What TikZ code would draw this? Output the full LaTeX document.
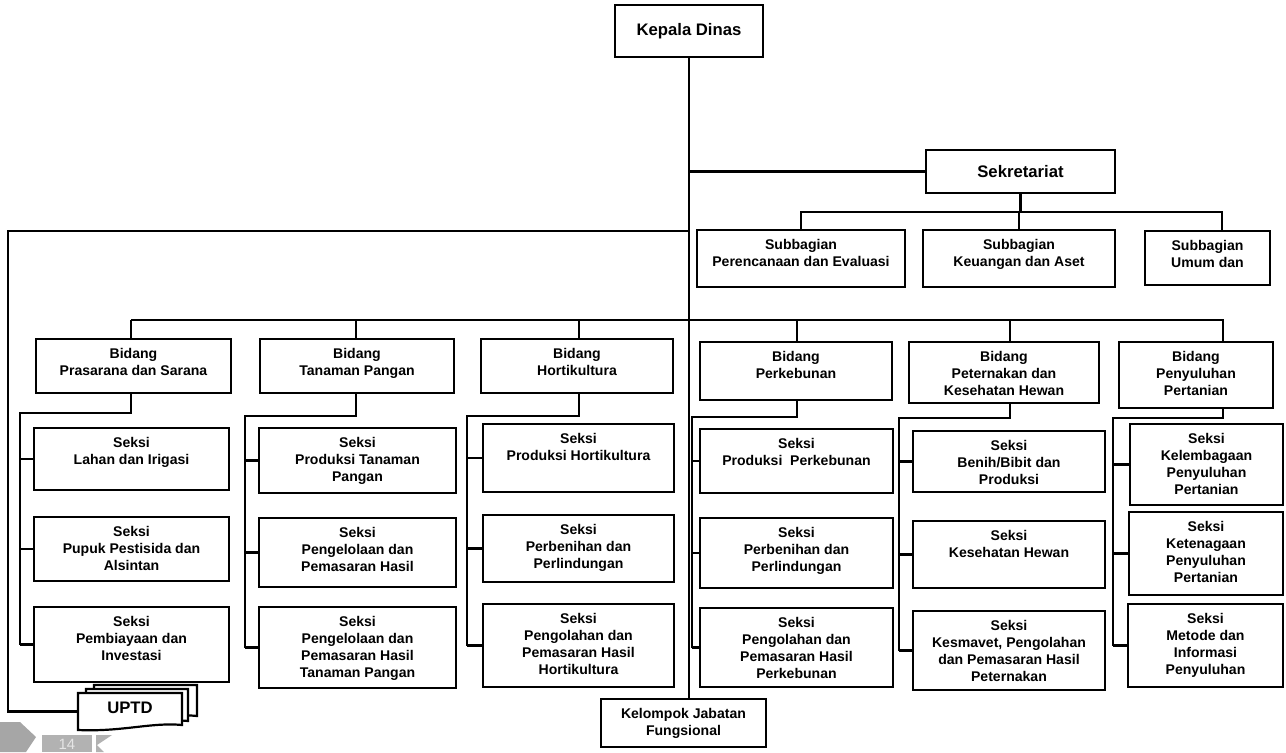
\documentclass[tikz,border=0pt]{standalone}
\usepackage{fontspec}
\setmainfont{Liberation Sans}
\usetikzlibrary{fit}

\begin{document}
\begin{tikzpicture}[x=0.02cm, y=-0.02cm,
    unit/.style={draw, line width=1.6pt, inner sep=0pt},
    txt/.style={font=\bfseries\fontsize{8}{9.7}\selectfont, align=center, inner sep=0pt},
    big/.style={font=\bfseries\fontsize{9.5}{11}\selectfont, align=center, inner sep=0pt},
    cap/.style={label={[txt, anchor=north, yshift=-0.2cm]north:{#1}}},
    mid/.style={label={[txt]center:{#1}}},
    link/.style={line width=1.25pt}]
    \useasboundingbox (0,0) rectangle (1286,752);
    % Top level
    \node[unit, fit={(615,5) (763,57)}, label={[big]center:Kepala Dinas}] (kadis) {};
    \node[unit, fit={(926,150) (1115,193)}, label={[big]center:Sekretariat}] (sekre) {};
    \node[unit, fit={(601,699) (766,747)}, mid={Kelompok Jabatan\\Fungsional}] (jafung) {};
    % Subbagian
    \node[unit, fit={(697,230) (905,287)}, cap={Subbagian\\Perencanaan dan Evaluasi}] (sub1) {};
    \node[unit, fit={(923,230) (1115,287)}, cap={Subbagian\\Keuangan dan Aset}] (sub2) {};
    \node[unit, fit={(1145,231) (1270,285)}, cap={Subbagian\\Umum dan}] (sub3) {};
    % Bidang
    \node[unit, fit={(36,339) (231,393)}, cap={Bidang\\Prasarana dan Sarana}] (bid1) {};
    \node[unit, fit={(260,339) (454,393)}, cap={Bidang\\Tanaman Pangan}] (bid2) {};
    \node[unit, fit={(481,339) (673,393)}, cap={Bidang\\Hortikultura}] (bid3) {};
    \node[unit, fit={(700,342) (892,400)}, cap={Bidang\\Perkebunan}] (bid4) {};
    \node[unit, fit={(909,342) (1099,403)}, cap={Bidang\\Peternakan dan\\Kesehatan Hewan}] (bid5) {};
    \node[unit, fit={(1119,342) (1273,408)}, cap={Bidang\\Penyuluhan\\Pertanian}] (bid6) {};
    % Seksi, column by column
    \node[unit, fit={(34,428) (229,490)}, cap={Seksi\\Lahan dan Irigasi}] (sek11) {};
    \node[unit, fit={(34,517) (229,581)}, cap={Seksi\\Pupuk Pestisida dan\\Alsintan}] (sek12) {};
    \node[unit, fit={(34,607) (229,682)}, cap={Seksi\\Pembiayaan dan\\Investasi}] (sek13) {};
    \node[unit, fit={(259,428) (456,493)}, cap={Seksi\\Produksi Tanaman\\Pangan}] (sek21) {};
    \node[unit, fit={(259,518) (456,587)}, cap={Seksi\\Pengelolaan dan\\Pemasaran Hasil}] (sek22) {};
    \node[unit, fit={(259,607) (456,688)}, cap={Seksi\\Pengelolaan dan\\Pemasaran Hasil\\Tanaman Pangan}] (sek23) {};
    \node[unit, fit={(483,424) (674,492)}, cap={Seksi\\Produksi Hortikultura}] (sek31) {};
    \node[unit, fit={(483,515) (674,582)}, cap={Seksi\\Perbenihan dan\\Perlindungan}] (sek32) {};
    \node[unit, fit={(483,604) (674,687)}, cap={Seksi\\Pengolahan dan\\Pemasaran Hasil\\Hortikultura}] (sek33) {};
    \node[unit, fit={(700,429) (893,493)}, cap={Seksi\\Produksi~~Perkebunan}] (sek41) {};
    \node[unit, fit={(700,518) (893,588)}, cap={Seksi\\Perbenihan dan\\Perlindungan}] (sek42) {};
    \node[unit, fit={(700,608) (893,687)}, cap={Seksi\\Pengolahan dan\\Pemasaran Hasil\\Perkebunan}] (sek43) {};
    \node[unit, fit={(913,431) (1105,492)}, cap={Seksi\\Benih/Bibit dan\\Produksi}] (sek51) {};
    \node[unit, fit={(913,521) (1105,588)}, cap={Seksi\\Kesehatan Hewan}] (sek52) {};
    \node[unit, fit={(913,611) (1105,690)}, cap={Seksi\\Kesmavet, Pengolahan\\dan Pemasaran Hasil\\Peternakan}] (sek53) {};
    \node[unit, fit={(1130,424) (1283,505)}, cap={Seksi\\Kelembagaan\\Penyuluhan\\Pertanian}] (sek61) {};
    \node[unit, fit={(1129,512) (1283,595)}, cap={Seksi\\Ketenagaan\\Penyuluhan\\Pertanian}] (sek62) {};
    \node[unit, fit={(1128,604) (1283,687)}, cap={Seksi\\Metode dan\\Informasi\\Penyuluhan}] (sek63) {};
    % UPTD, a stack of sheets
    \draw[link, fill=white] (94,685) -- (197,685) -- (197,716) .. controls (170,713) and (140,722) .. (94,720) -- cycle;
    \draw[link, fill=white] (86,689) -- (188,689) -- (188,721) .. controls (160,718) and (130,727) .. (86,725) -- cycle;
    \draw[link, fill=white] (78,693) -- (182,693) -- (182,725) .. controls (152,722) and (122,732) .. (78,730) -- cycle;
    \node[inner sep=0pt, fit={(78,693) (182,730)}] (uptd) {};
    \node[big] (uptdt) at (130,708) {UPTD};
    % Lines from the head
    \draw[link] (kadis.south) -- (kadis.south |- jafung.north);
    \draw[link] (kadis.south |- sekre.west) -- (sekre.west);
    \coordinate (sb1) at (800,212);
    \coordinate (sb3) at (1222,212);
    \draw[link] (sekre.south) -- (sekre.south |- sb1);
    \draw[link] (sub1.north) -- (sub1.north |- sb1) -- (sb3) -- (sb3 |- sub3.north);
    \draw[link] (sub2.north) -- (sub2.north |- sb1);
    \coordinate (lt) at (8,231);
    \draw[link] (kadis.south |- lt) -- (lt) -- (lt |- uptd.west) -- (uptd.west);
    % Bidang bus and the Seksi brackets
    \draw[link] (131,320) -- (1224,320);
    \foreach \i/\x/\l/\y in {1/131/20/413, 2/356/245/416, 3/579/467/416,
                             4/797/692/417, 5/1010/899/418, 6/1223/1113/418} {
        \coordinate (top\i) at (\x,320);
        \coordinate (hook\i) at (\x,\y);
        \coordinate (rail\i) at (\l,\y);
        \draw[link] (top\i) -- (top\i |- bid\i.north);
        \draw[link] (hook\i |- bid\i.south) -- (hook\i) -- (rail\i) -- (rail\i |- sek\i3.west);
        \foreach \j in {1,2,3}
            \draw[link] (rail\i |- sek\i\j.west) -- (sek\i\j.west);
    }
    % Page badge
    \fill[gray!70] (0,722) -- (20,722) -- (36,737) -- (26,752) -- (0,752) -- cycle;
    \fill[gray!60] (42,735) rectangle (92,752);
    \fill[gray!60] (112,735) -- (97,745) -- (104,752) -- (96,752) -- (96,735) -- cycle;
    \node[font=\fontsize{8.5}{9}\selectfont, text=gray!20, inner sep=0pt] (page) at (67,744.5) {14};
\end{tikzpicture}
\end{document}
